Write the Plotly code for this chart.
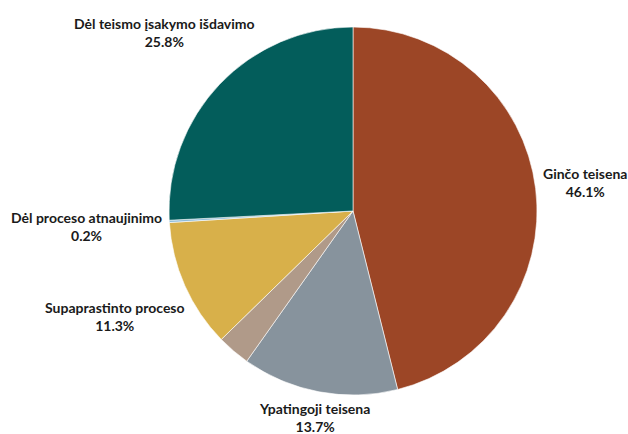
import math
import plotly.graph_objects as go

labels = ["Ginčo teisena", "Ypatingoji teisena", "Kita", "Supaprastinto proceso",
          "Dėl proceso atnaujinimo", "Dėl teismo įsakymo išdavimo"]
values = [46.1, 13.7, 2.9, 11.3, 0.2, 25.8]
show_label = [True, True, False, True, True, True]
colors = ["#9C4626", "#87939D", "#B09A89", "#D8B04A", "#8EBBD9", "#035D5B"]

W, H = 628, 434
cx, cy, r = 353, 211, 184
FONT = 14
CLEAR = r + 5          # label box keeps this distance from the pie centre
LINE_H = 34            # two-line label height (px)
CHAR_W = 0.48 * FONT   # approx. average bold glyph width

fig = go.Figure(go.Pie(
    labels=labels,
    values=values,
    textinfo="none",
    sort=False,
    direction="clockwise",
    rotation=0,
    marker=dict(colors=colors, line=dict(color="white", width=0.6)),
    hoverinfo="label+percent",
    domain=dict(x=[(cx - r) / W, (cx + r) / W], y=[1 - (cy + r) / H, 1 - (cy - r) / H]),
))

# labels: centred on each slice's mid-angle ray, pushed out until clear of the pie
total = sum(values)
cum = 0.0
for lab, val, show in zip(labels, values, show_label):
    mid = (cum + val / 2) / total
    cum += val
    if not show:
        continue
    th = 2 * math.pi * mid
    ux, uy = math.sin(th), -math.cos(th)
    hw = CHAR_W * len(lab) / 2
    hh = LINE_H / 2
    lo, hi = 0.0, 600.0
    for _ in range(60):
        d = (lo + hi) / 2
        dx = max(0.0, abs(d * ux) - hw)
        dy = max(0.0, abs(d * uy) - hh)
        if math.hypot(dx, dy) < CLEAR:
            lo = d
        else:
            hi = d
    px, py = cx + d * ux, cy + d * uy
    pct = 100 * val / total
    fig.add_annotation(
        x=px / W, y=1 - py / H, xref="paper", yref="paper",
        text=f"<b>{lab}</b><br><b>{pct:.1f}%</b>",
        showarrow=False, xanchor="center", yanchor="middle", align="center",
        font=dict(family="Lato", size=FONT, color="#1a1a1a"),
    )

fig.update_layout(
    width=W, height=H,
    margin=dict(l=0, r=0, t=0, b=0),
    showlegend=False,
    paper_bgcolor="white",
    plot_bgcolor="white",
)

fig.write_html("out.html", config={"displayModeBar": False},
               post_script="document.body.style.margin='0px';")
